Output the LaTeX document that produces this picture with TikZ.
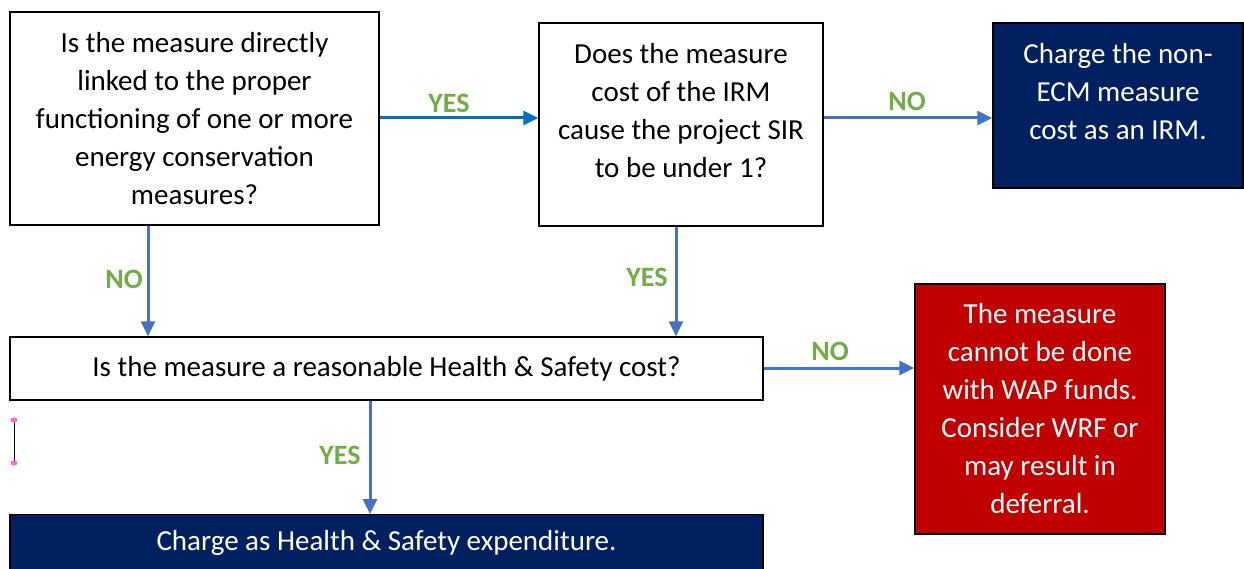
\documentclass[tikz,border=0pt]{standalone}
\usepackage{fontspec}
\setmainfont{Carlito}
\usetikzlibrary{arrows.meta}
\definecolor{navy}{HTML}{002060}
\definecolor{darkred}{HTML}{C00000}
\definecolor{arrowblue}{HTML}{4472C4}
\definecolor{linkblue}{HTML}{0070C0}
\definecolor{okgreen}{HTML}{70AD47}
\definecolor{handle}{HTML}{FF66CC}
\begin{document}
\begin{tikzpicture}[x=1pt,y=-1pt,
  question/.style={draw=black,line width=1.4pt,fill=white,align=center,
    inner sep=0pt,font=\fontsize{29}{38}\selectfont},
  outcome/.style={draw=black,line width=1.4pt,align=center,text=white,
    inner sep=0pt,font=\fontsize{29}{38}\selectfont},
  flow/.style={draw=arrowblue,line width=3pt,
    -{Triangle[length=15pt,width=14pt]}},
  answer/.style={text=okgreen,font=\fontsize{28}{30}\selectfont\bfseries,inner sep=0pt}]
\clip (0,0) rectangle (1244,569);
\useasboundingbox (0,0) rectangle (1244,569);
\fill[white] (0,0) rectangle (1244,569);

% decision boxes
\node[question,minimum width=369pt,minimum height=213pt] (linked) at (194.5,118.5)
  {Is the measure directly\\linked to the proper\\functioning of one or more\\energy conservation\\measures?};
\node[question,minimum width=284pt,minimum height=203pt] (sir) at (681,124.5)
  {Does the measure\\cost of the IRM\\cause the project SIR\\to be under 1?\\[-9pt]};
\node[question,minimum width=753pt,minimum height=63pt] (hs) at (386.5,368.5)
  {Is the measure a reasonable Health \& Safety cost?};

% outcome boxes
\node[outcome,fill=navy,minimum width=250pt,minimum height=165pt] (irm) at (1118,105.5)
  {Charge the non-\\ECM measure\\cost as an IRM.\\[-9pt]};
\node[outcome,fill=darkred,minimum width=250pt,minimum height=250pt] (nowap) at (1040,409)
  {The measure\\cannot be done\\with WAP funds.\\Consider WRF or\\may result in\\deferral.};
\node[outcome,fill=navy,minimum width=753pt,minimum height=70pt,anchor=north] (hsexp) at (386.5,514)
  {};
\node[text=white,font=\fontsize{29}{38}\selectfont,inner sep=0pt] (hslabel) at (386.5,543)
  {Charge as Health \& Safety expenditure.};

% connectors
\draw[flow,draw=linkblue] (linked.east |- 0,118) -- (sir.west |- 0,118);
\draw[flow] (sir.east |- 0,118) -- (irm.west |- 0,118);
\draw[flow] (linked.south -| 148,0) -- (hs.north -| 148,0);
\draw[flow] (sir.south -| 676,0) -- (hs.north -| 676,0);
\draw[flow] (hs.east |- 0,368) -- (nowap.west |- 0,368);
\draw[flow] (hs.south -| 370,0) -- (hsexp.north -| 370,0);

% branch answers
\node[answer] (a1) at (449,103) {YES};
\node[answer] (a2) at (907,101) {NO};
\node[answer] (a3) at (124,279) {NO};
\node[answer] (a4) at (647,277) {YES};
\node[answer] (a5) at (830,351) {NO};
\node[answer] (a6) at (340,455) {YES};

% stray connector handle at the left margin
\coordinate (h1) at (14,420);
\coordinate (h2) at (14,463);
\draw[black,line width=0.6pt] (h1) -- (h2);
\fill[handle] (h1) ellipse (3.5pt and 2.5pt);
\fill[handle] (h2) ellipse (3.5pt and 2.5pt);
\end{tikzpicture}
\end{document}
